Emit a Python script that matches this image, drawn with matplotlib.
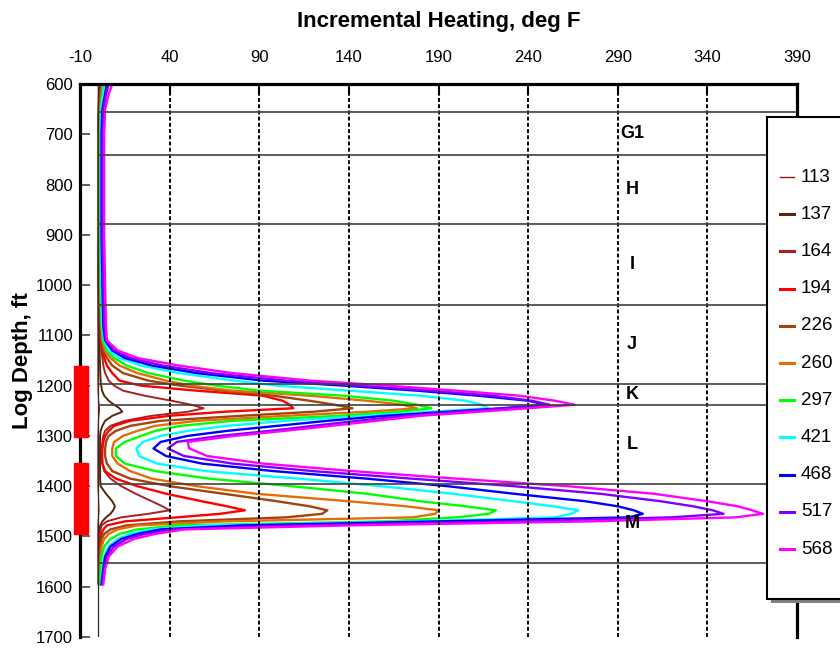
import matplotlib
matplotlib.use('Agg')
from matplotlib import pyplot as plt
from matplotlib.patches import Rectangle
from matplotlib.lines import Line2D

plt.rcParams['font.family'] = ['Liberation Sans', 'DejaVu Sans']
plt.rcParams['axes.unicode_minus'] = False

# depth grid (ft) shared by all heating profiles
depth_ft = [600, 620, 650, 700, 800, 900, 1000,
            1080, 1110, 1130, 1145, 1160, 1175, 1190, 1200, 1210, 1220, 1230, 1238,
            1245, 1252, 1260, 1270, 1280, 1290, 1300, 1312, 1325, 1340,
            1355, 1370, 1385, 1400, 1415, 1430, 1440, 1448, 1455,
            1462, 1470, 1478, 1486, 1495, 1505, 1520, 1540, 1565, 1595]

# incremental heating (deg F) for each day
heat_113 = [0.3, 0.2, 0.1, 0, 0, 0, 0,
            0, 0, 0, 0, 0, 0, 0, 0, 0.1, 0.2, 0.4, 0.6,
            0.8, 0.8, 0.5, 0.3, 0.2, 0.1, 0, 0, 0, 0,
            0, 0, 0, 0, 0.2, 0.4, 0.5, 0.6, 0.5,
            0.3, 0.1, 0, 0, 0, 0, 0, 0, 0, 0]
heat_137 = [1, 0.7, 0.4, 0.2, 0.2, 0.2, 0.3,
            0.5, 0.8, 1, 1, 1.2, 1.3, 1.5, 1.8, 2.3, 3.5, 6, 9,
            12, 13.6, 8, 4, 2.5, 1.5, 1.2, 1.2, 1.2, 1.2,
            1.2, 1.2, 1.2, 1.5, 4.5, 8, 9.5, 8.5, 7,
            4.5, 2.5, 1.3, 1, 0.5, 0.5, 0.5, 0.5, 0.5, 0.5]
heat_164 = [1.5, 1, 0.5, 0.2, 0.2, 0.2, 0.4,
            1, 1.5, 2, 2.5, 3, 4, 6, 9, 14, 26, 41, 52,
            59, 50, 30, 15, 7, 4, 3, 2.5, 2.2, 2.2,
            2.5, 3.5, 7, 13, 21, 30, 36, 40, 28,
            13, 5, 2, 1.5, 1, 1, 1, 1, 1, 1]
heat_194 = [2, 1.5, 0.8, 0.3, 0.3, 0.3, 0.6,
            1.5, 2, 2.5, 3.5, 5, 8, 12, 24, 55, 92, 103, 107,
            109, 70, 40, 18, 9, 6, 4, 3, 2.5, 2.3,
            2.5, 4, 10, 22, 38, 58, 72, 82, 68,
            44, 15, 5, 3, 2, 1.5, 1.2, 1, 1, 1]
heat_226 = [2, 1.5, 0.8, 0.5, 0.5, 0.5, 0.8,
            1.5, 2, 3, 5, 8, 14, 28, 46, 70, 98, 118, 132,
            142, 120, 80, 35, 18, 10, 6, 4.5, 4, 4,
            5, 8, 18, 40, 70, 100, 118, 128, 125,
            105, 45, 16, 7, 3.5, 2, 1.5, 1, 1, 1]
heat_260 = [2.5, 2, 1, 0.5, 0.5, 0.5, 1,
            2, 2.5, 4, 7, 12, 22, 38, 52, 75, 118, 150, 170,
            178, 150, 105, 55, 32, 22, 14, 9, 8, 8,
            11, 18, 30, 55, 88, 140, 172, 190, 188,
            176, 70, 22, 11, 6, 3.5, 2, 1.5, 1, 1]
heat_297 = [3, 2.5, 1.5, 1, 1, 1, 1.5,
            2, 3, 5, 9, 16, 28, 48, 66, 90, 137, 165, 178,
            186, 168, 135, 75, 46, 32, 24, 15, 10, 10,
            15, 32, 62, 108, 150, 180, 205, 222, 218,
            200, 160, 45, 22, 12, 7, 3.5, 2, 1.5, 1]
heat_421 = [4, 3, 2, 1.5, 1.5, 1.5, 2,
            2.5, 3.5, 6, 12, 24, 45, 76, 100, 140, 180, 205, 214,
            218, 185, 150, 105, 72, 50, 35, 25, 21.5, 23,
            33, 60, 112, 158, 198, 232, 254, 268, 264,
            255, 178, 60, 30, 18, 11, 6, 3.5, 2.5, 2]
heat_468 = [5, 4, 2.5, 2, 2, 2, 2.5,
            3, 4, 8, 15, 30, 55, 92, 137, 178, 212, 240, 250,
            225, 195, 160, 128, 100, 72, 50, 35, 31, 38,
            58, 98, 150, 195, 232, 272, 290, 299, 304,
            296, 190, 80, 35, 22, 13, 7, 4, 3, 2]
heat_517 = [6, 4.5, 3, 2.5, 2.5, 2.5, 3,
            3.5, 4.5, 9, 18, 36, 63, 105, 145, 186, 220, 242, 252,
            228, 200, 172, 145, 120, 96, 68, 44, 39, 48,
            75, 120, 175, 232, 280, 314, 332, 343, 349,
            320, 230, 110, 42, 26, 16, 9, 5, 3.5, 2.5]
heat_568 = [8, 6, 4, 3.5, 3.5, 3.5, 4,
            4.5, 5, 11, 22, 45, 75, 118, 162, 200, 235, 255, 266,
            240, 212, 180, 155, 130, 104, 76, 50, 51, 61,
            92, 142, 200, 262, 310, 340, 357, 365, 371,
            356, 275, 140, 48, 32, 20, 11, 6, 4, 3]

series_names = ['113', '137', '164', '194', '226', '260', '297', '421', '468', '517', '568']
series_data = [heat_113, heat_137, heat_164, heat_194, heat_226, heat_260,
               heat_297, heat_421, heat_468, heat_517, heat_568]
series_colors = ['#8b1a1a', '#55260c', '#a52222', '#ff0000', '#a3440c', '#e46c0a',
                 '#00ff00', '#00ffff', '#0000ff', '#8000ff', '#ff00ff']
series_widths = [0.8, 1.4, 1.4, 1.7, 1.7, 1.7, 1.7, 1.7, 1.7, 1.7, 1.7]

# geological zones
zone_tops = [656, 741, 878, 1040, 1197, 1239, 1396, 1553]
zone_names = ['G1', 'H', 'I', 'J', 'K', 'L', 'M']

# perforated intervals
perf_top = [1160, 1354]
perf_base = [1302, 1495]

x_ticks = [-10, 40, 90, 140, 190, 240, 290, 340, 390]
y_ticks = [600, 700, 800, 900, 1000, 1100, 1200, 1300, 1400, 1500, 1600, 1700]

W, H = 840, 648
fig = plt.figure(figsize=(W / 100, H / 100), dpi=100)
ax = fig.add_axes([80 / W, 11 / H, 717 / W, 553 / H])

ax.set_xlim(-10, 390)
ax.set_ylim(1700, 600)

# curves
for name, vals, col, lw in zip(series_names, series_data, series_colors, series_widths):
    ax.plot(vals, depth_ft, color=col, lw=lw, zorder=2)

ax.axvline(0, color='#3a2a20', lw=0.9, zorder=2)

# dotted grid and zone boundaries
for xv in x_ticks[1:-1]:
    ax.axvline(xv, color='black', lw=1.4, ls=(0, (2, 1.2)), zorder=3)
ax.hlines(zone_tops, 0, 390, color='#404040', lw=1.2, zorder=3)

for i, name in enumerate(zone_names):
    mid = (zone_tops[i] + zone_tops[i + 1]) / 2
    ax.text(298, mid, name, ha='center', va='center', fontsize=13,
            fontweight='bold', zorder=4)

# perforations, drawn over the left spine
for top, base in zip(perf_top, perf_base):
    ax.add_patch(Rectangle((-13.3, top), 7.8, base - top, color='#ff0000',
                           clip_on=False, zorder=6))

ax.xaxis.tick_top()
ax.set_xticks(x_ticks)
ax.set_yticks(y_ticks)
ax.tick_params(axis='x', direction='in', length=7, width=1.5, pad=14, labelsize=12)
ax.tick_params(axis='y', direction='in', length=7, width=1.2, pad=5, labelsize=12)
ax.tick_params(axis='y', colors='#444444', labelcolor='black')

for side in ['top', 'left', 'right']:
    ax.spines[side].set_linewidth(2.3)
ax.spines['bottom'].set_visible(False)

fig.text(438.5 / W, 1 - 21 / H, 'Incremental Heating, deg F', ha='center', va='center',
         fontsize=16, fontweight='bold')
ax.set_ylabel('Log Depth, ft', fontsize=16, fontweight='bold', labelpad=2)

# legend box (cut off on the right like the original)
lx0, ly0, ly1 = 767, 117, 599
fig.add_artist(Rectangle(((lx0 + 4) / W, 1 - (ly1 + 4) / H), 100 / W, (ly1 - ly0) / H,
                         transform=fig.transFigure, fc='#808080', ec='none', zorder=9))
fig.add_artist(Rectangle((lx0 / W, 1 - ly1 / H), 100 / W, (ly1 - ly0) / H,
                         transform=fig.transFigure, fc='white', ec='black', lw=1.5, zorder=10))
for i, (name, col) in enumerate(zip(series_names, series_colors)):
    yy = 1 - (177 + i * 37.2) / H
    fig.add_artist(Line2D([780 / W, 794 / W], [yy, yy], transform=fig.transFigure,
                          color=col, lw=1.0 if i == 0 else 2.2, zorder=11))
    fig.text(801 / W, yy, name, ha='left', va='center', fontsize=13.5, zorder=11)

fig.savefig('out.png', dpi=100)
